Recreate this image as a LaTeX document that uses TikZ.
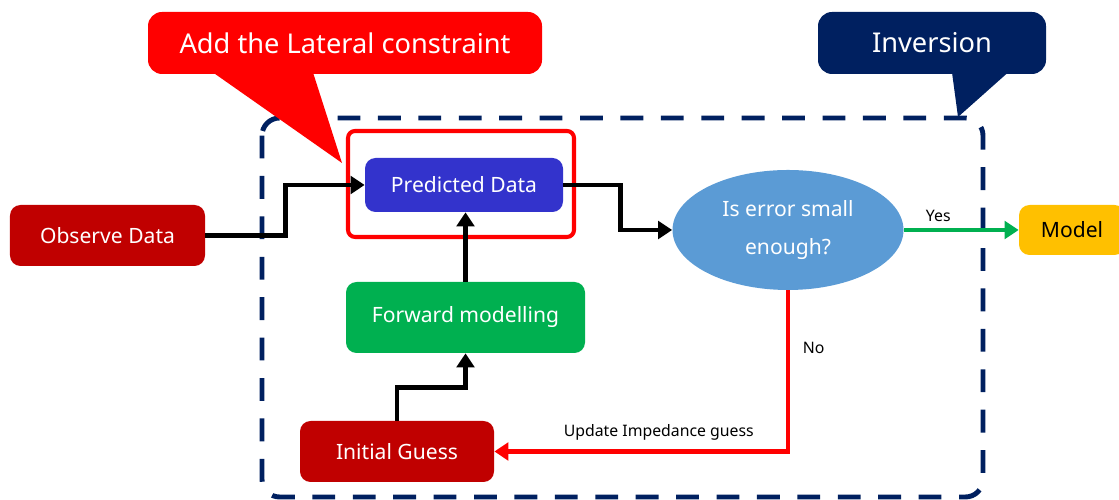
\documentclass[tikz,border=0pt]{standalone}
\usepackage{fontspec}
\setmainfont{Noto Sans}
\usepackage{tikz}
\usetikzlibrary{shapes.geometric}
\usetikzlibrary{arrows.meta}
\usetikzlibrary{positioning}

\definecolor{obsred}{HTML}{C00000}
\definecolor{predblue}{HTML}{3333CC}
\definecolor{fwdgreen}{HTML}{00B050}
\definecolor{errblue}{HTML}{5B9BD5}
\definecolor{modelgold}{HTML}{FFC000}
\definecolor{navyblue}{HTML}{002060}
\definecolor{brightred}{HTML}{FF0000}

\begin{document}
\begin{tikzpicture}[scale=1,
    box/.style={rounded corners=6pt, text=white, align=center, inner sep=0pt,
                font=\fontsize{12}{14}\selectfont},
    flow/.style={line width=2.8pt, -{Triangle[length=8pt,width=10pt]}},
    tag/.style={text=black, font=\fontsize{9}{11}\selectfont},
    callout/.style={rounded corners=8pt, text=white, inner sep=0pt,
                    font=\fontsize{15.5}{18}\selectfont}]

    \useasboundingbox (0,0) rectangle (22.38,10);

    % inversion frame and the two callouts
    \draw [color=navyblue, line width=2.8pt, dash pattern=on 13pt off 10pt, rounded corners=10pt] (5.24,7.64) rectangle (19.66,0.06);

    \node (lateral) [callout, fill=brightred, minimum width=7.88cm, minimum height=1.24cm] at (6.9,9.14) {Add the Lateral constraint};
    \fill [brightred] (4.26,8.55) -- (6.26,8.55) -- (6.84,6.74) -- cycle;

    \node (inversion) [callout, fill=navyblue, minimum width=4.56cm, minimum height=1.24cm] at (18.64,9.14) {Inversion};
    \fill [navyblue] (19.04,8.55) -- (20.16,8.55) -- (19.16,7.66) -- cycle;

    \node (constraint) [draw=brightred, line width=2.3pt, rounded corners=4pt, minimum width=4.52cm, minimum height=2.12cm] at (9.22,6.32) {};

    % blocks
    \node (observe)   [box, fill=obsred,   minimum width=3.9cm,  minimum height=1.22cm] at (2.15,5.29) {Observe Data};
    \node (predicted) [box, fill=predblue, minimum width=3.96cm, minimum height=1.08cm] at (9.28,6.30) {Predicted Data};
    \node (forward)   [box, fill=fwdgreen, minimum width=4.78cm, minimum height=1.42cm] at (9.31,3.65) {Forward modelling};
    \node (initial)   [box, fill=obsred,   minimum width=3.88cm, minimum height=1.22cm] at (7.94,0.97) {Initial Guess};
    \node (check) [ellipse, fill=errblue, text=white, align=center, inner sep=0pt, minimum width=4.62cm, minimum height=2.4cm,
                   font=\fontsize{12}{22}\selectfont] at (15.76,5.4) {Is error small\\enough?};
    \node (model)     [box, fill=modelgold, text=black, minimum width=2.12cm, minimum height=1.0cm] at (21.44,5.4) {Model};

    % connectors
    \draw [flow] (observe.east) -- ++(1.6,0) |- (predicted.west);
    \draw [flow] (predicted.east) -- ++(1.14,0) |- (check.west);
    \draw [flow] (forward.north) -- (forward.north |- predicted.south);
    \draw [flow] (initial.north) -- ++(0,0.66) -| (forward.south);
    \draw [flow, line width=2.3pt, color=brightred] (check.south) |- node [pos=0.18, right=4pt, tag] {No}
          node [pos=0.72, above=2pt, tag] {Update Impedance guess} (initial.east);
    \draw [flow, line width=2.3pt, color=fwdgreen] (check.east) -- node [pos=0.3, above, tag] {Yes} (model.west);

  \end{tikzpicture}
\end{document}
